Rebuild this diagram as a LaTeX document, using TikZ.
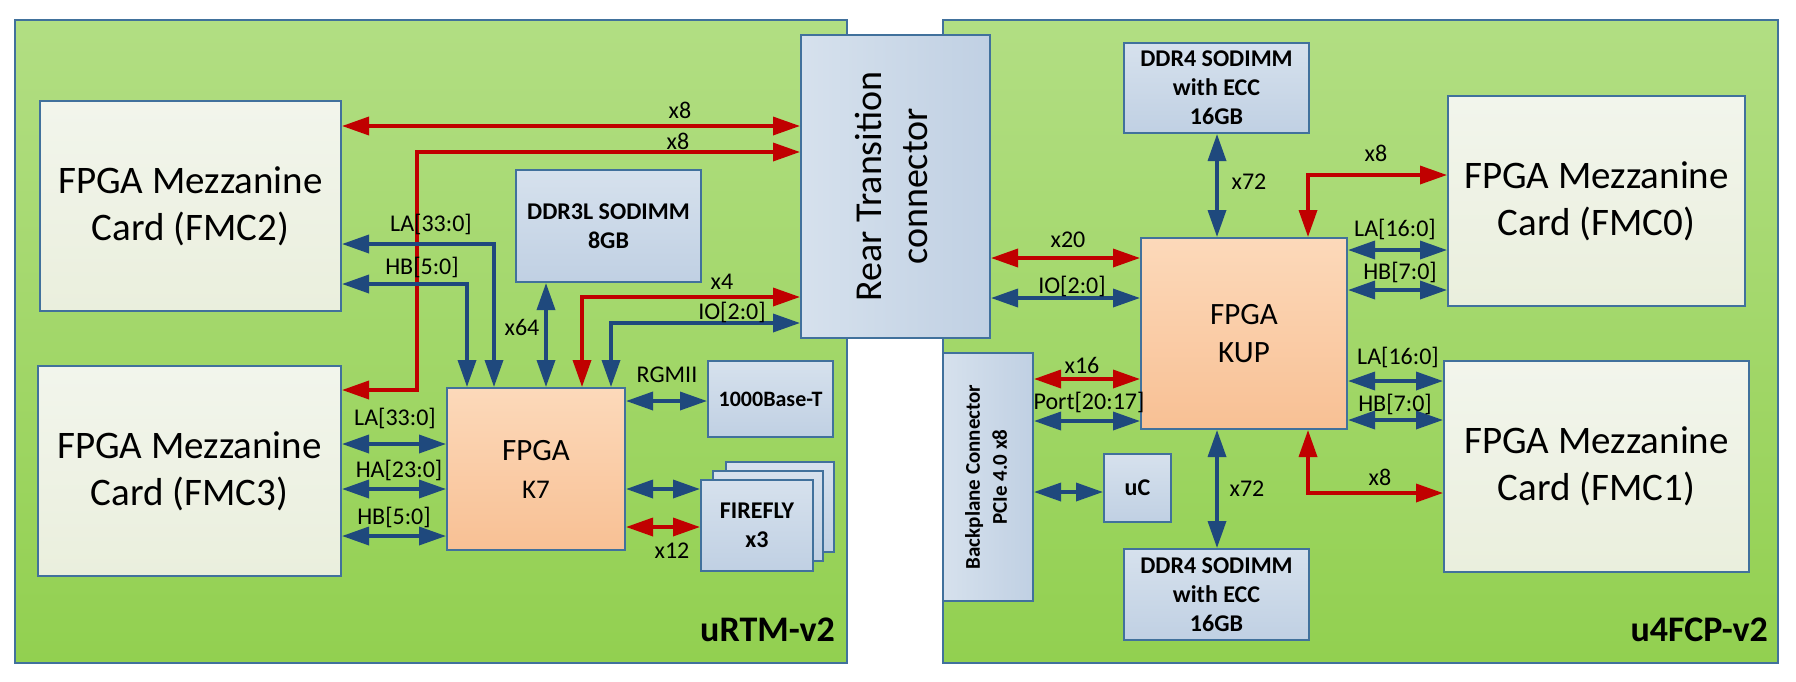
\documentclass[tikz,border=0pt]{standalone}
\usepackage{fontspec}
\setmainfont{Carlito}
\usetikzlibrary{arrows.meta}
\definecolor{boardtop}{RGB}{178,222,131}
\definecolor{boardbot}{RGB}{146,208,80}
\definecolor{frame}{RGB}{65,113,156}
\definecolor{fmctop}{RGB}{242,245,236}
\definecolor{fmcbot}{RGB}{234,239,221}
\definecolor{memtop}{RGB}{214,225,237}
\definecolor{membot}{RGB}{192,208,227}
\definecolor{fpgatop}{RGB}{252,217,186}
\definecolor{fpgabot}{RGB}{248,192,148}
\definecolor{busblue}{RGB}{31,73,125}
\definecolor{busred}{RGB}{192,0,0}

\begin{document}
\begin{tikzpicture}[x=1pt, y=-1pt,
    board/.style={draw=frame, line width=1.5pt, top color=boardtop, bottom color=boardbot},
    box/.style={draw=frame, line width=2pt, align=center, inner sep=0pt},
    fmc/.style={box, top color=fmctop, bottom color=fmcbot, font=\fontsize{39}{47}\selectfont},
    mem/.style={box, top color=memtop, bottom color=membot, font=\fontsize{24}{29}\selectfont\bfseries},
    fpga/.style={box, top color=fpgatop, bottom color=fpgabot, font=\fontsize{31}{38}\selectfont},
    lab/.style={inner sep=0pt, font=\fontsize{24}{28}\selectfont},
    bus/.style={line width=3.5pt, >={Triangle[length=27pt,width=18pt]}, <->},
    blue bus/.style={bus, color=busblue},
    red bus/.style={bus, color=busred}]

    \useasboundingbox (0,0) rectangle (1796,681);

    % the two boards
    \draw[board] (15,20) rectangle (847,663);
    \draw[board] (943,20) rectangle (1778,663);
    \node[lab, anchor=east, font=\fontsize{36}{40}\selectfont\bfseries] (urtm) at (835,630) {uRTM-v2};
    \node[lab, anchor=east, font=\fontsize{36}{40}\selectfont\bfseries] (ufcp) at (1768,630) {u4FCP-v2};

    \node[box, left color=memtop, right color=membot, minimum width=189pt, minimum height=303pt,
        font=\fontsize{38}{46}\selectfont] (rtc) at (895.5,186.5)
        {\rotatebox{90}{\begin{tabular}{@{}c@{}}Rear Transition\\connector\end{tabular}}};
    \node[box, left color=memtop, right color=membot, minimum width=90pt, minimum height=248pt,
        font=\fontsize{21}{27}\selectfont\bfseries] (bp) at (988,477)
        {\rotatebox{90}{\begin{tabular}{@{}c@{}}Backplane Connector\\PCIe 4.0 x8\end{tabular}}};

    \node[fmc, minimum width=301pt, minimum height=210pt] (fmc2) at (190.5,206) {FPGA Mezzanine\\Card (FMC2)};
    \node[fmc, minimum width=303pt, minimum height=210pt] (fmc3) at (189.5,471) {FPGA Mezzanine\\Card (FMC3)};
    \node[fmc, minimum width=297pt, minimum height=210pt] (fmc0) at (1596.5,201) {FPGA Mezzanine\\Card (FMC0)};
    \node[fmc, minimum width=305pt, minimum height=211pt] (fmc1) at (1596.5,466.5) {FPGA Mezzanine\\Card (FMC1)};

    \node[fpga, minimum width=178pt, minimum height=162pt] (k7) at (536,469) {FPGA\\{\fontsize{27}{38}\selectfont K7}};
    \node[fpga, minimum width=206pt, minimum height=191pt] (kup) at (1244,333.5) {FPGA\\KUP};

    \node[mem, minimum width=185pt, minimum height=112pt] (ddr3) at (608.5,226) {DDR3L SODIMM\\8GB};
    \node[mem, minimum width=185pt, minimum height=90pt] (ddrtop) at (1216.5,88) {DDR4 SODIMM\\with ECC\\16GB};
    \node[mem, minimum width=185pt, minimum height=91pt] (ddrbot) at (1216.5,594.5) {DDR4 SODIMM\\with ECC\\16GB};
    \node[mem, minimum width=67pt, minimum height=68pt] (uc) at (1137.5,488) {uC};
    \node[mem, minimum width=125pt, minimum height=76pt, font=\fontsize{22}{28}\selectfont\bfseries] (phy) at (770.5,399) {1000Base-T};
    \node[mem, minimum width=108pt, minimum height=90pt] (ff3) at (779.5,507) {};
    \node[mem, minimum width=110pt, minimum height=90pt] (ff2) at (768,516) {};
    \node[mem, minimum width=112pt, minimum height=91pt] (ff1) at (757,525.5) {FIREFLY\\x3};

    % uRTM links
    \draw[red bus] (fmc2.east |- 0,126) -- (rtc.west |- 0,126);
    \draw[red bus] (rtc.west |- 0,152) -| (417,390) -- (fmc3.east |- 0,390);
    \draw[blue bus] (fmc2.east |- 0,244) -| (k7.north -| 494,0);
    \draw[blue bus] (fmc2.east |- 0,284) -| (k7.north -| 467,0);
    \draw[blue bus] (ddr3.south -| 546,0) -- (k7.north -| 546,0);
    \draw[red bus] (rtc.west |- 0,297) -| (k7.north -| 582,0);
    \draw[blue bus] (rtc.west |- 0,323) -| (k7.north -| 611,0);
    \foreach \yy in {444,489,536}
        \draw[blue bus] (fmc3.east |- 0,\yy) -- (k7.west |- 0,\yy);
    \draw[blue bus] (k7.east |- 0,401) -- (phy.west |- 0,401);
    \draw[blue bus] (k7.east |- 0,489) -- (ff1.west |- 0,489);
    \draw[red bus] (k7.east |- 0,527) -- (ff1.west |- 0,527);

    % u4FCP links
    \draw[red bus] (rtc.east |- 0,258) -- (kup.west |- 0,258);
    \draw[blue bus] (rtc.east |- 0,298) -- (kup.west |- 0,298);
    \draw[red bus] (bp.east |- 0,379) -- (kup.west |- 0,379);
    \draw[blue bus] (bp.east |- 0,421) -- (kup.west |- 0,421);
    \draw[blue bus] (bp.east |- 0,492) -- (uc.west |- 0,492);
    \draw[blue bus] (ddrtop.south -| 1217,0) -- (kup.north -| 1217,0);
    \draw[blue bus] (kup.south -| 1217,0) -- (ddrbot.north -| 1217,0);
    \draw[red bus] (kup.north -| 1308,0) |- (fmc0.west |- 0,175);
    \draw[red bus] (kup.south -| 1308,0) |- (fmc1.west |- 0,493);
    \foreach \yy in {250,290}
        \draw[blue bus] (kup.east |- 0,\yy) -- (fmc0.west |- 0,\yy);
    \foreach \yy in {381,420}
        \draw[blue bus] (kup.east |- 0,\yy) -- (fmc1.west |- 0,\yy);

    % link labels
    \foreach \n/\x/\y/\t in {l1/680/110/x8, l2/678/141/x8, l3/431/224/{LA[33:0]}, l4/422/267/{HB[5:0]},
            l5/522/327/x64, l6/722/282/x4, l7/732/312/{IO[2:0]}, l8/395/418/{LA[33:0]},
            l9/399/470/{HA[23:0]}, l10/394/517/{HB[5:0]}, l11/667/375/RGMII, l12/672/551/x12,
            r1/1068/240/x20, r2/1072/286/{IO[2:0]}, r3/1082/365/x16, r4/1089/402/{Port[20:17]},
            r5/1249/182/x72, r6/1247/489/x72, r7/1376/153/x8, r8/1380/477/x8,
            r9/1395/229/{LA[16:0]}, r10/1400/272/{HB[7:0]}, r11/1398/357/{LA[16:0]}, r12/1395/404/{HB[7:0]}}
        \node[lab] (\n) at (\x,\y) {\t};

\end{tikzpicture}
\end{document}
